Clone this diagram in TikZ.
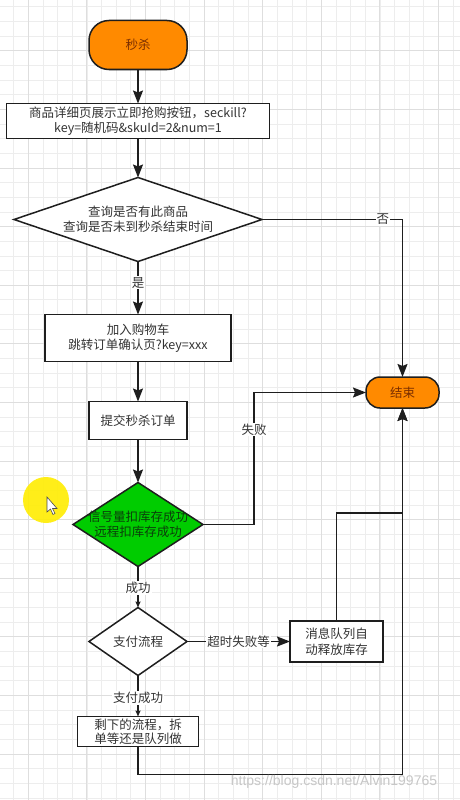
\documentclass[tikz,border=0pt]{standalone}
\usepackage{fontspec}
\setmainfont{Noto Sans CJK SC}
\newfontfamily\markfont{Liberation Sans}
\usepackage{xcolor}
\usetikzlibrary{positioning,shapes.geometric,arrows.meta}

\definecolor{flowline}{HTML}{1E1E1E}
\definecolor{termorange}{HTML}{FF8A00}
\definecolor{termtext}{HTML}{7A2E00}
\definecolor{stockgreen}{HTML}{00CC00}
\definecolor{stocktext}{HTML}{0B3D0B}
\definecolor{labeltext}{HTML}{333333}

\begin{document}
\begin{tikzpicture}[
			x=1pt, y=-1pt,
			font=\fontsize{12.5}{15}\selectfont,
			terminal/.style={draw=flowline, line width=1.5pt, fill=termorange, text=termtext, inner sep=0pt, outer sep=0pt, align=center},
			process/.style={draw=flowline, line width=1.5pt, fill=white, text=labeltext, inner sep=0pt, outer sep=0pt, align=center},
			decision/.style={diamond, draw=flowline, line width=1.5pt, fill=white, text=labeltext, inner sep=0pt, outer sep=0pt, align=center},
			lab/.style={fill=white, text=labeltext, inner sep=1pt},
			arrow/.style={draw=flowline, line width=1.5pt, -{Stealth[length=13pt, width=10pt, inset=2pt]}},
			small arrow/.style={draw=flowline, line width=1.5pt, -{Stealth[length=6pt, width=5pt, inset=1pt]}}
			]
	
	%% Hintergrund: Raster
	\useasboundingbox (0,0) rectangle (460,800);
	\fill[white] (0,0) rectangle (460,800);
	\begin{scope}
		\clip (0,0) rectangle (460,800);
		\draw[black!7, line width=0.8pt, shift={(13.65,6.85)}, step=14.65pt] (-20,-20) grid (480,820);
		\draw[black!13, line width=0.9pt, shift={(28.3,50.8)}, step=58.6pt] (-60,-60) grid (480,820);
	\end{scope}
	
	%% Mauszeiger
	\fill[yellow!95!orange, opacity=0.9] (46,500) circle[radius=23pt];
	\draw[black!70, fill=white, line width=0.6pt] (47,497) -- (47,512) -- (50.5,509) -- (53,514.5) -- (55,513.5) -- (52.5,508.5) -- (57,508.5) -- cycle;
	
	%% Hauptspalte
	\node[terminal, rounded corners=20pt, minimum width=98pt, minimum height=49pt] (start) at (138,45) {秒杀};
	\node[process, below=34pt of start, minimum width=263pt, minimum height=35pt] (detail) {商品详细页展示立即抢购按钮，seckill?\\key=随机码\&skuId=2\&num=1};
	\node[decision, below=39pt of detail, minimum width=248pt, minimum height=84pt, shape aspect=2.95] (check) {查询是否有此商品\\查询是否未到秒杀结束时间};
	\node[process, below=53pt of check, minimum width=186pt, minimum height=47pt] (cart) {加入购物车\\跳转订单确认页?key=xxx};
	\node[process, below=40pt of cart, minimum width=98pt, minimum height=38pt] (submit) {提交秒杀订单};
	\node[decision, fill=stockgreen, text=stocktext, below=43pt of submit, minimum width=130pt, minimum height=84pt, shape aspect=1.55, inner xsep=-16pt] (stock) {信号量扣库存成功\\远程扣库存成功};
	\node[decision, below=41pt of stock, minimum width=98pt, minimum height=68pt, shape aspect=1.44] (pay) {支付流程};
	\node[process, below=41pt of pay, minimum width=121pt, minimum height=30pt, font=\fontsize{12.5}{14}\selectfont] (rest) {剩下的流程，拆\\单等还是队列做};
	
	%% Rechte Seite
	\node[process, right=103pt of pay, minimum width=93pt, minimum height=41pt, font=\fontsize{12.5}{16}\selectfont] (release) {消息队列自\\动释放库存};
	\node[terminal, rounded corners=14pt, minimum width=73pt, minimum height=31pt] (finish) at (402.5,392.5) {结束};
	
	%% Verbindungen
	\draw[arrow] (start) -- (detail);
	\draw[arrow] (detail) -- (check);
	\draw[arrow] (check) -- node[lab, pos=0.4] {是} (cart);
	\draw[arrow] (check.east) -| node[lab, pos=0.43] {否} (finish.north);
	\draw[arrow] (cart) -- (submit);
	\draw[arrow] (submit) -- (stock);
	\draw[arrow] (stock.east) -- ++(51,0) |- node[lab, pos=0.36] {失败} (finish.west);
	\draw[small arrow] (stock) -- node[lab, pos=0.52] {成功} (pay);
	\draw[arrow] (pay) -- node[lab, pos=0.5] {超时失败等} (release);
	\draw[small arrow] (pay) -- node[lab, pos=0.55] {支付成功} (rest);
	\draw[arrow] (release.north) -- ++(0,-108) -| (finish.south);
	\draw[arrow] (rest.south) -- ++(0,28) -| (finish.south);
	
	%% Wasserzeichen
	\node[text=black!22, font=\markfont\fontsize{14}{16}\selectfont, inner sep=0pt] (watermark) at (334,782) {https://blog.csdn.net/Alvin199765};
	
\end{tikzpicture}
\end{document}
